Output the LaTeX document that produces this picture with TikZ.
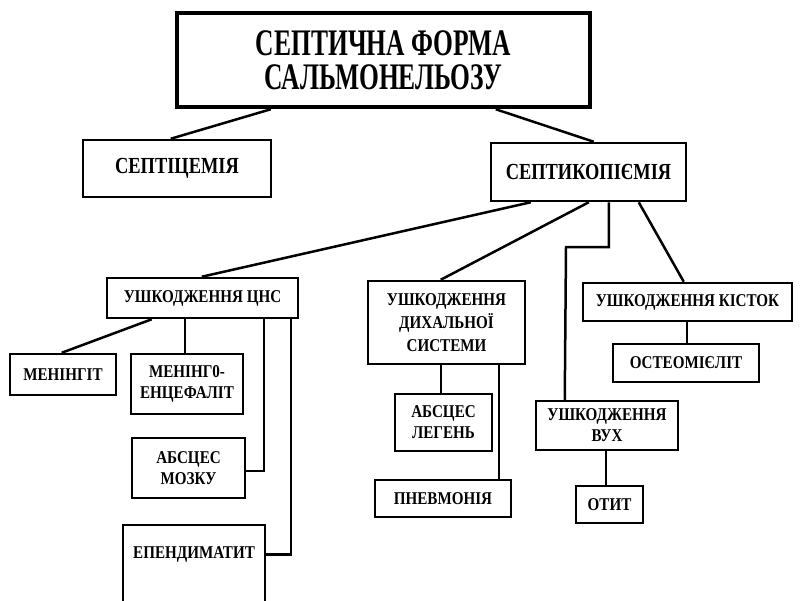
\documentclass[tikz,border=0pt]{standalone}
\usepackage{fontspec}
\setmainfont{Liberation Serif}
\newfontfamily\fa[FakeStretch=0.68]{Liberation Serif}
\newfontfamily\fb[FakeStretch=0.80]{Liberation Serif}
\newfontfamily\fc[FakeStretch=0.84]{Liberation Serif}
\tikzset{
  box/.style={draw, line width=2.5pt, rectangle, inner sep=0pt, align=center},
  bigbox/.style={box, line width=4.5pt, font=\fa\bfseries\fontsize{37.5}{34}\selectfont},
  midbox/.style={box, font=\fb\bfseries\fontsize{23}{24}\selectfont},
  smallbox/.style={box, font=\fc\bfseries\fontsize{18}{21}\selectfont},
  link/.style={line width=2.5pt, line join=miter},
}
\begin{document}
\begin{tikzpicture}[x=1pt,y=-1pt]
\useasboundingbox (0,0) rectangle (800,600);
\clip (0,0) rectangle (800,600);
\fill[white] (0,0) rectangle (800,600);
% nodes
\node[bigbox, minimum width=413, minimum height=94] (top) at (383.5,60) {СЕПТИЧНА ФОРМА\\САЛЬМОНЕЛЬОЗУ};
\node[midbox, minimum width=188, minimum height=57] (sept) at (177,168.5) {СЕПТІЦЕМІЯ};
\node[midbox, minimum width=195, minimum height=58] (septk) at (588.5,172) {СЕПТИКОПІЄМІЯ};
\node[smallbox, minimum width=191, minimum height=40] (cns) at (202.5,298) {УШКОДЖЕННЯ ЦНС};
\node[smallbox, minimum width=106, minimum height=41] (men) at (63,374.5) {МЕНІНГІТ};
\node[smallbox, minimum width=112, minimum height=60] (menenc) at (187,384) {МЕНІНГ0-\\ЕНЦЕФАЛІТ};
\node[smallbox, minimum width=113, minimum height=60] (absm) at (188.5,468) {АБСЦЕС\\МОЗКУ};
\node[smallbox, minimum width=142, minimum height=79, text height=12pt, text depth=25pt] (epend) at (194,564.5) {ЕПЕНДИМАТИТ};
\node[smallbox, minimum width=157, minimum height=83, font=\fc\bfseries\fontsize{18}{23}\selectfont] (dyh) at (446.5,322.5) {УШКОДЖЕННЯ\\ДИХАЛЬНОЇ\\СИСТЕМИ};
\node[smallbox, minimum width=97, minimum height=57] (absl) at (443.5,422.5) {АБСЦЕС\\ЛЕГЕНЬ};
\node[smallbox, minimum width=136, minimum height=37] (pnev) at (443,498.5) {ПНЕВМОНІЯ};
\node[smallbox, minimum width=142, minimum height=49] (vuh) at (607,425.5) {УШКОДЖЕННЯ\\ВУХ};
\node[smallbox, minimum width=67, minimum height=37] (otyt) at (609.5,504.5) {ОТИТ};
\node[smallbox, minimum width=209, minimum height=38] (kist) at (687.5,302) {УШКОДЖЕННЯ КІСТОК};
\node[smallbox, minimum width=146, minimum height=38] (osteo) at (686,363) {ОСТЕОМІЄЛІТ};
\coordinate (vuhbend) at (566,247);
% connectors
\draw[link] ([xshift=96pt]top.south west) -- ([xshift=89pt]sept.north west);
\draw[link] ([xshift=321pt]top.south west) -- ([xshift=104pt]septk.north west);
\draw[link] ([xshift=41pt]septk.south west) -- ([xshift=96pt]cns.north west);
\draw[link] ([xshift=99pt]septk.south west) -- ([xshift=74pt]dyh.north west);
\draw[link] ([xshift=119pt]septk.south west) |- (vuhbend) -- ([xshift=30pt]vuh.north west);
\draw[link] ([xshift=149pt]septk.south west) -- ([xshift=102pt]kist.north west);
\draw[link] ([xshift=46pt]cns.south west) -- ([xshift=53pt]men.north west);
\draw[link] ([xshift=79pt]cns.south west) -- ([xshift=55pt]menenc.north west);
\draw[link] ([xshift=158pt]cns.south west) |- ([yshift=-3pt]absm.east);
\draw[link] ([xshift=185pt]cns.south west) |- ([yshift=10pt]epend.east);
\draw[link] ([xshift=74pt]dyh.south west) -- ([xshift=47pt]absl.north west);
\draw[link] ([xshift=132pt]dyh.south west) -- ([xshift=125pt]pnev.north west);
\draw[link] ([xshift=71pt]vuh.south west) -- ([xshift=31pt]otyt.north west);
\draw[link] ([xshift=105pt]kist.south west) -- ([xshift=75pt]osteo.north west);
\end{tikzpicture}
\end{document}
